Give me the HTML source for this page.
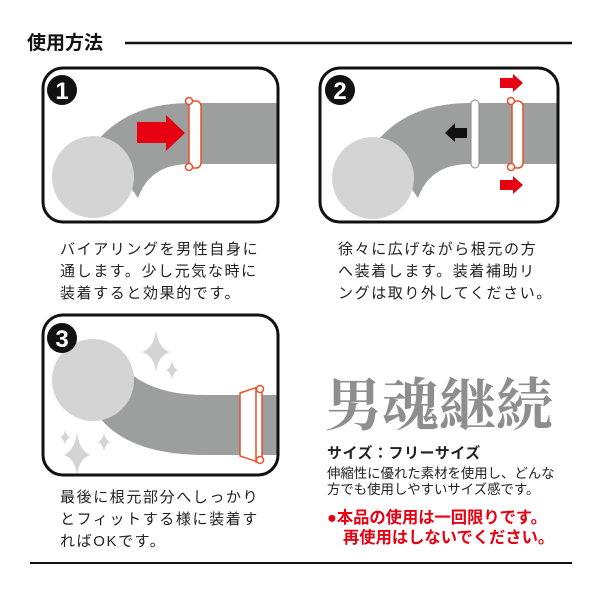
<!DOCTYPE html>
<html><head><meta charset="utf-8"><style>
html,body{margin:0;padding:0;background:#fff;}
svg{display:block}
text{font-family:"Liberation Sans","Noto Sans CJK JP",sans-serif;}
</style></head><body>
<svg width="600" height="600" viewBox="0 0 600 600">
<text x="27" y="49" font-size="19" font-weight="bold" fill="#111">使用方法</text>
<line x1="125" y1="43" x2="572" y2="43" stroke="#111" stroke-width="2.5"/>
<line x1="30" y1="563" x2="572" y2="563" stroke="#111" stroke-width="2"/>

<defs>
<clipPath id="c1"><rect x="43" y="68" width="235" height="154" rx="20"/></clipPath>
<clipPath id="c2"><rect x="320" y="68" width="238" height="154" rx="20"/></clipPath>
<clipPath id="c3"><rect x="43" y="315" width="235" height="160" rx="20"/></clipPath>
</defs>
<g clip-path="url(#c1)">
<path d="M98,140 Q130,103 190,103 L280,103 L280,164 L190,164 Q150,164 138,198 Z" fill="#9d9e9e"/>
<circle cx="93" cy="177" r="41" fill="#d4d4d5"/>
<rect x="189" y="101" width="12" height="67" rx="5" fill="#fff" stroke="#e8502a" stroke-width="1.5"/>
<circle cx="189" cy="101" r="3.5" fill="#fff" stroke="#e8502a" stroke-width="1.5"/>
<circle cx="189" cy="167" r="3.5" fill="#fff" stroke="#e8502a" stroke-width="1.5"/>
<path d="M137,122 L166,122 L166,115 L185,133 L166,151 L166,143 L137,143 Z" fill="#e60012"/>
</g>
<rect x="43" y="68" width="235" height="154" rx="20" fill="none" stroke="#111" stroke-width="3"/>
<circle cx="62" cy="90" r="15" fill="#111"/>
<text x="62" y="99" font-size="24" font-weight="bold" fill="#fff" text-anchor="middle">1</text>

<g clip-path="url(#c2)">
<path d="M378,140 Q410,103 470,103 L560,103 L560,164 L470,164 Q430,164 418,198 Z" fill="#9d9e9e"/>
<circle cx="373" cy="178" r="41" fill="#d4d4d5"/>
<rect x="471" y="100" width="8" height="68" rx="4" fill="#fff" stroke="#8a8a8a" stroke-width="1"/>
<rect x="512" y="101" width="11" height="67" rx="5" fill="#fff" stroke="#e8502a" stroke-width="1.5"/>
<circle cx="511" cy="101" r="3.5" fill="#fff" stroke="#e8502a" stroke-width="1.5"/>
<circle cx="511" cy="167" r="3.5" fill="#fff" stroke="#e8502a" stroke-width="1.5"/>
<path d="M467,128 L455,128 L455,123 L445,133 L455,142 L455,138 L467,138 Z" fill="#111"/>
<path d="M500,78 L513,78 L513,74 L523,83 L513,92 L513,88 L500,88 Z" fill="#e60012"/>
<path d="M500,180 L513,180 L513,176 L523,185 L513,194 L513,190 L500,190 Z" fill="#e60012"/>
</g>
<rect x="320" y="68" width="238" height="154" rx="20" fill="none" stroke="#111" stroke-width="3"/>
<circle cx="340" cy="90" r="15" fill="#111"/>
<text x="340" y="99" font-size="24" font-weight="bold" fill="#fff" text-anchor="middle">2</text>

<g clip-path="url(#c3)">
<path d="M125,368 Q150,395 205,395 L280,395 L280,455 L205,455 Q130,455 100,418 Z" fill="#9d9e9e"/>
<circle cx="93" cy="380" r="41" fill="#d4d4d5"/>
<path d="M240,393 L258,387 L258,462 L240,456 Z" fill="#fff" stroke="#e8502a" stroke-width="1.5"/>
<rect x="256" y="388" width="6" height="74" fill="#fff" stroke="#e8502a" stroke-width="1.5"/>
<circle cx="260" cy="389" r="3.5" fill="#fff" stroke="#e8502a" stroke-width="1.5"/>
<circle cx="260" cy="460" r="3.5" fill="#fff" stroke="#e8502a" stroke-width="1.5"/>
<g fill="#d4d4d5">
<path d="M156,330 Q158,348 170,352 Q158,356 156,372 Q154,356 142,352 Q154,348 156,330 Z"/>
<path d="M172,360 Q173,368 178,370 Q173,372 172,380 Q171,372 166,370 Q171,368 172,360 Z"/>
<path d="M77,432 Q79,450 90,455 Q79,459 77,475 Q75,459 64,455 Q75,450 77,432 Z"/>
<path d="M65,430 Q66,436 70,437 Q66,439 65,445 Q64,439 60,437 Q64,436 65,430 Z"/>
<path d="M104,432 Q105,440 110,442 Q105,444 104,452 Q103,444 98,442 Q103,440 104,432 Z"/>
</g>
</g>
<rect x="43" y="315" width="235" height="160" rx="20" fill="none" stroke="#111" stroke-width="3"/>
<circle cx="62" cy="338" r="15" fill="#111"/>
<text x="62" y="347" font-size="24" font-weight="bold" fill="#fff" text-anchor="middle">3</text>

<g font-size="15" fill="#222" letter-spacing="1.6">
<text x="60" y="254">バイアリングを男性自身に</text>
<text x="60" y="276">通します。少し元気な時に</text>
<text x="60" y="298">装着すると効果的です。</text>
<text x="338" y="254">徐々に広げながら根元の方</text>
<text x="338" y="276">へ装着します。装着補助リ</text>
<text x="338" y="298">ングは取り外してください。</text>
<text x="60" y="502">最後に根元部分へしっかり</text>
<text x="60" y="524">とフィットする様に装着す</text>
<text x="60" y="546">ればOKです。</text>
</g>
<text x="325" y="425" font-size="57" font-weight="bold" fill="#8e8e8e" style="font-family:'Noto Serif CJK SC',serif">男魂継続</text>
<text x="327" y="458" font-size="15" font-weight="bold" fill="#222" letter-spacing="0.5">サイズ：フリーサイズ</text>
<text x="327" y="478" font-size="13.4" fill="#222">伸縮性に優れた素材を使用し、どんな</text>
<text x="327" y="494" font-size="13.4" fill="#222">方でも使用しやすいサイズ感です。</text>
<text x="327" y="523" font-size="16.3" font-weight="bold" fill="#e60012">●本品の使用は一回限りです。</text>
<text x="343" y="543" font-size="16.3" font-weight="bold" fill="#e60012">再使用はしないでください。</text>
</svg>
</body></html>
